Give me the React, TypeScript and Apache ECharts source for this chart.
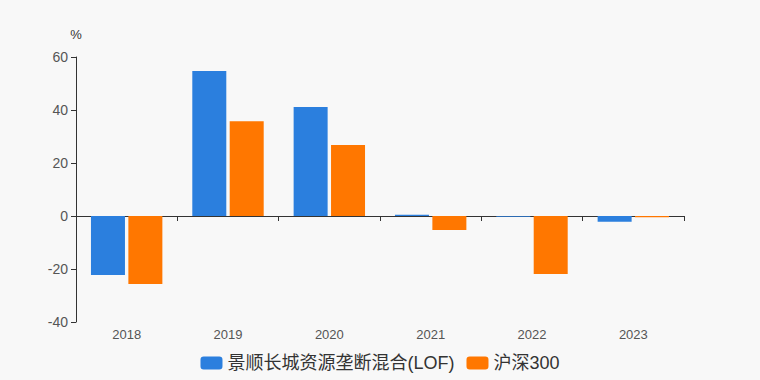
import React, { useEffect, useRef } from "react";
import * as echarts from "echarts";

const categories = ["2018", "2019", "2020", "2021", "2022", "2023"];
const fundName = "景顺长城资源垄断混合(LOF)";
const indexName = "沪深300";
const fundValues = [-22.3, 54.7, 41.1, 0.5, -0.3, -2.2];
const indexValues = [-25.7, 35.8, 26.8, -5.3, -21.9, -0.5];

export default function App() {
  const ref = useRef<HTMLDivElement>(null);
  useEffect(() => {
    if (!ref.current) return;
    const chart = echarts.init(ref.current, null, { renderer: "svg" });
    const font = "'Liberation Sans', 'Noto Sans CJK SC', sans-serif";
    chart.setOption({
      animation: false,
      backgroundColor: "#f8f8f8",
      textStyle: { fontFamily: font },
      grid: { left: 76, right: 76, top: 57, bottom: 58 },
      legend: {
        bottom: 3,
        left: "center",
        itemWidth: 22,
        itemHeight: 13,
        itemGap: 12,
        icon: "roundRect",
        textStyle: { fontSize: 18, color: "#333", fontFamily: font },
        data: [fundName, indexName],
      },
      xAxis: {
        type: "category",
        data: categories,
        axisLine: { onZero: true, lineStyle: { color: "#333" } },
        axisTick: { show: true, lineStyle: { color: "#333" } },
        axisLabel: { color: "#555", fontSize: 13, margin: 6 },
        position: "bottom",
      },
      yAxis: {
        type: "value",
        min: -40,
        max: 60,
        interval: 20,
        name: "%",
        nameTextStyle: { color: "#333", fontSize: 13, align: "center", padding: [0, 0, 0, 0] },
        nameGap: 16,
        axisLine: { show: true, lineStyle: { color: "#333" } },
        axisTick: { show: true, lineStyle: { color: "#333" } },
        axisLabel: { color: "#555", fontSize: 14, margin: 8 },
        splitLine: { show: false },
      },
      series: [
        {
          name: fundName,
          type: "bar",
          data: fundValues,
          barWidth: 34,
          barGap: "10%",
          itemStyle: { color: "#2b7fde" },
        },
        {
          name: indexName,
          type: "bar",
          data: indexValues,
          barWidth: 34,
          itemStyle: { color: "#ff7700" },
        },
      ],
    });
    return () => chart.dispose();
  }, []);
  return <div ref={ref} style={{ width: 760, height: 380, position: "absolute", left: 0, top: 0 }} />;
}
